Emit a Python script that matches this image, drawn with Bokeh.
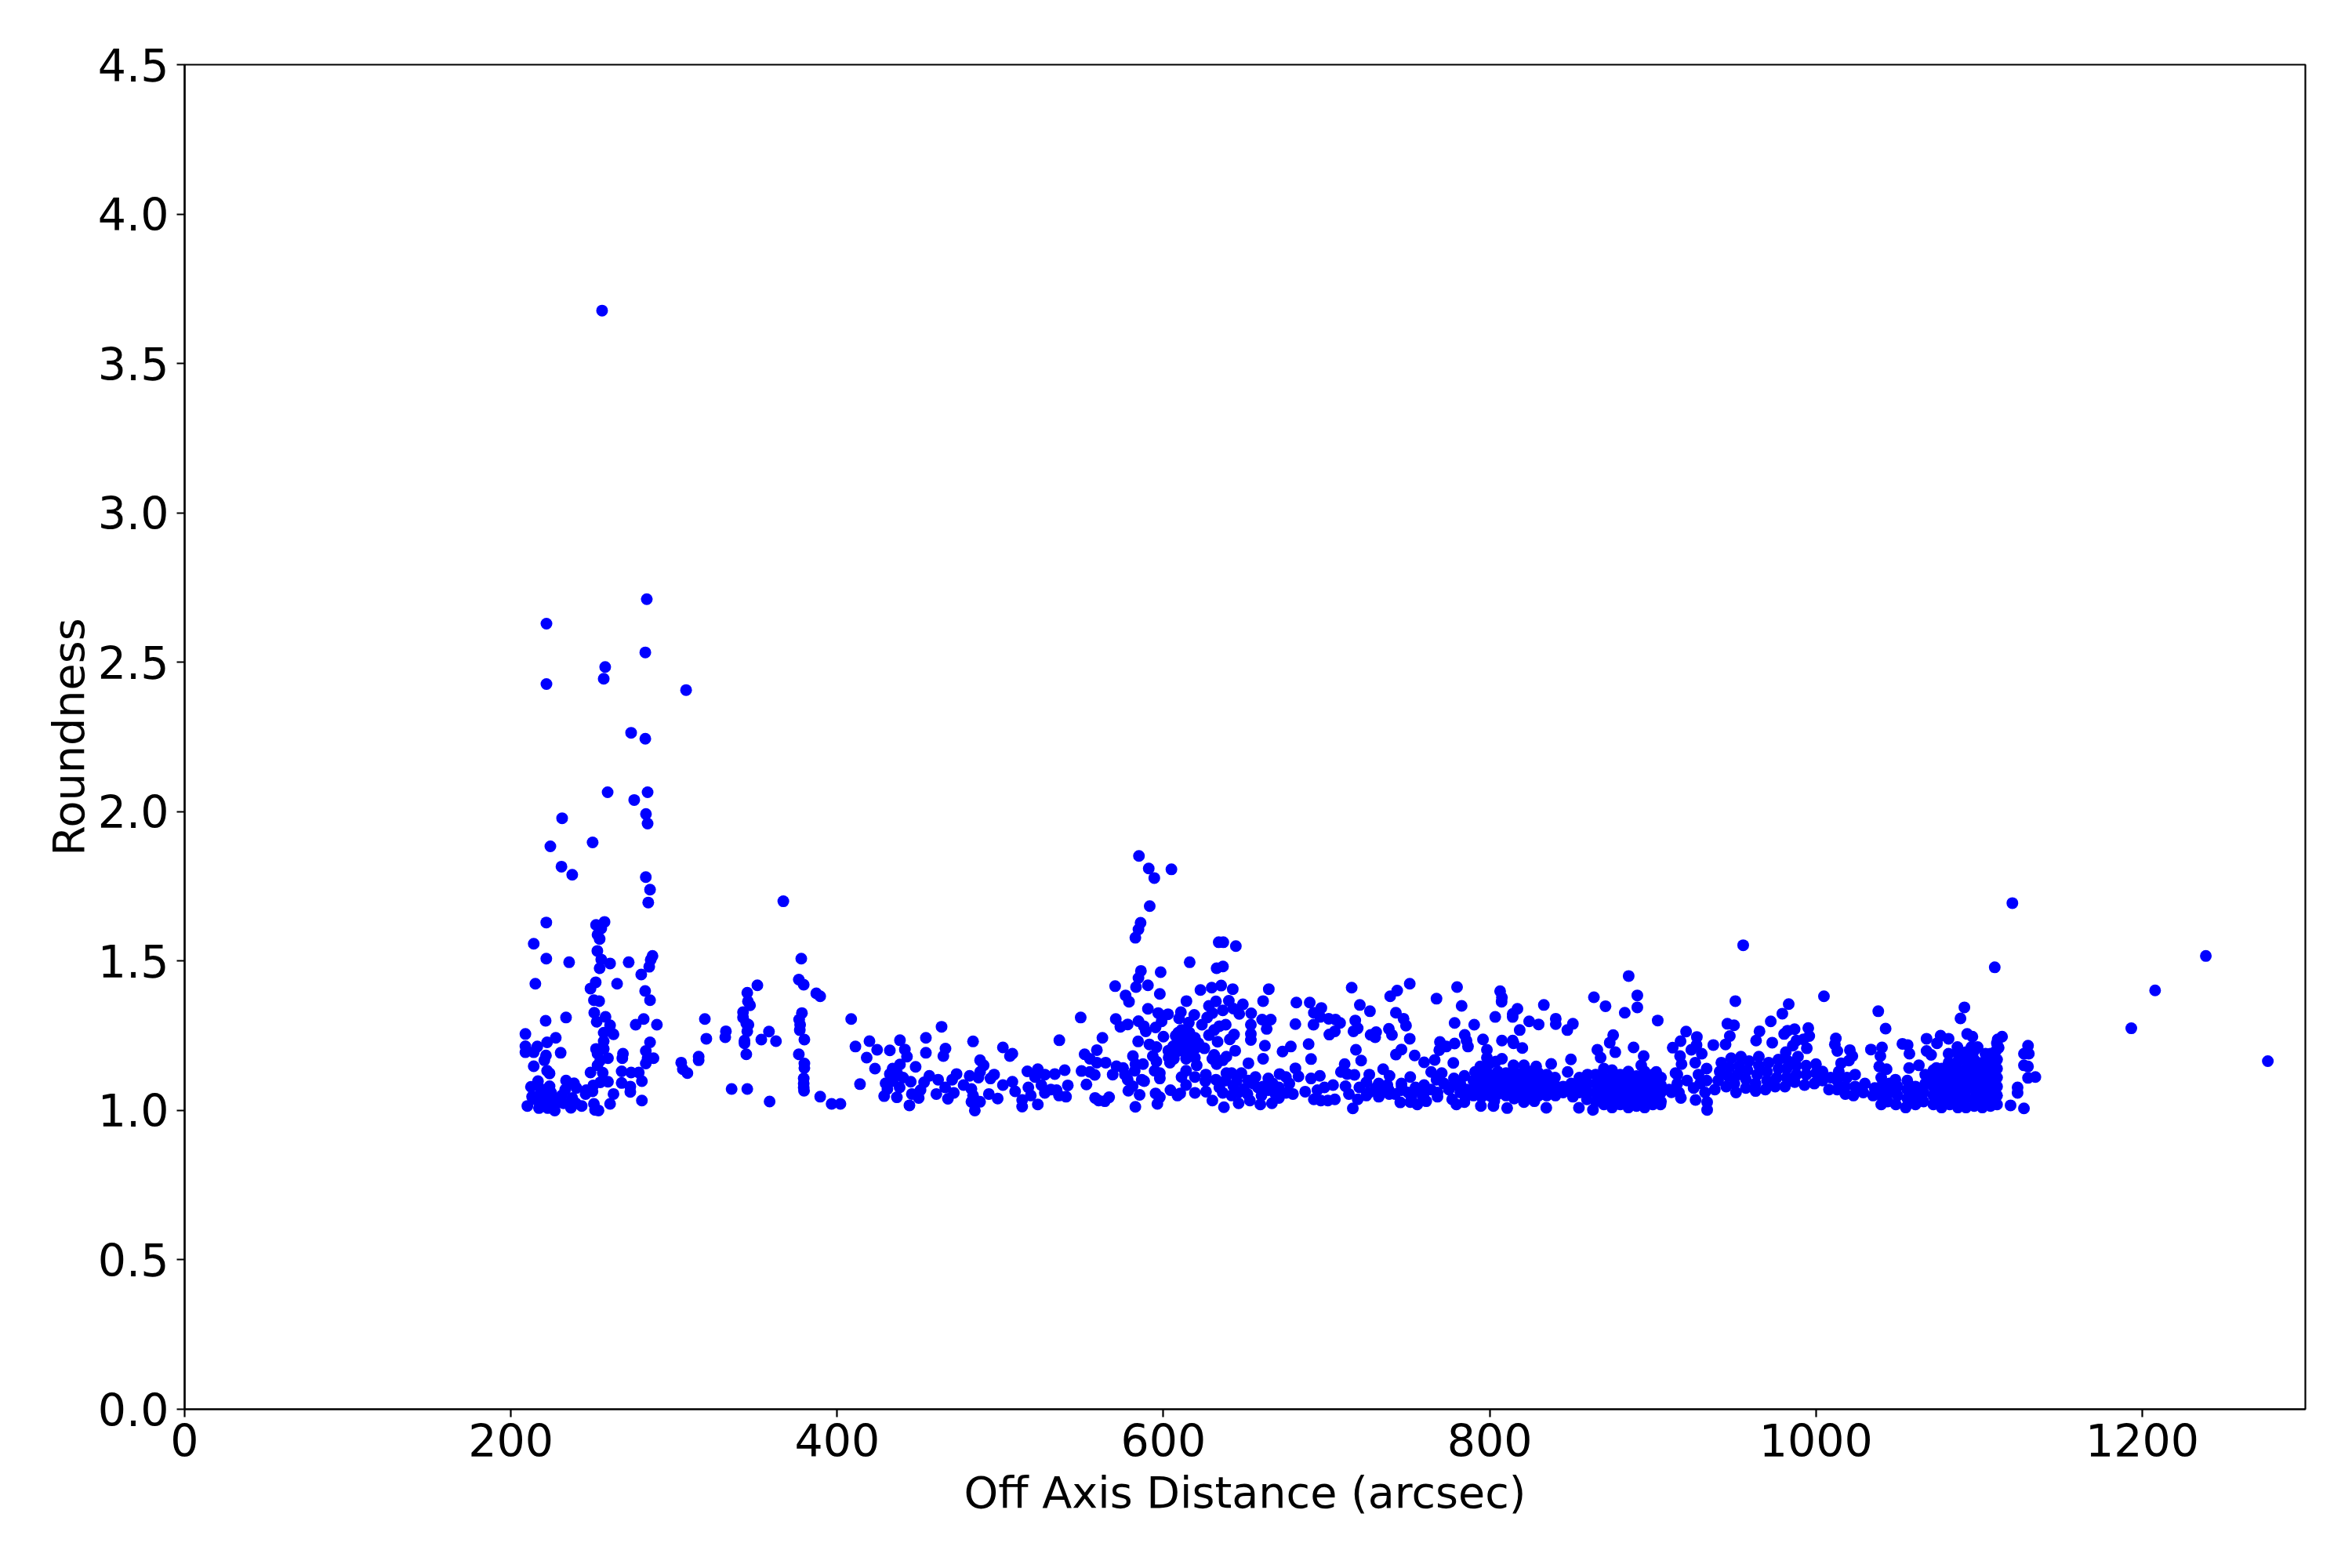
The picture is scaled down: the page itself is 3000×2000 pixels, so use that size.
from bokeh.plotting import figure
from bokeh.embed import file_html
from bokeh.resources import INLINE
from bokeh.models import Range1d, FixedTicker, ColumnDataSource

x_ticks = [0, 200, 400, 600, 800, 1000, 1200]
y_ticks = [0.0, 0.5, 1.0, 1.5, 2.0, 2.5, 3.0, 3.5, 4.0, 4.5]
y_tick_labels = {0.0: "0.0", 0.5: "0.5", 1.0: "1.0", 1.5: "1.5", 2.0: "2.0", 2.5: "2.5", 3.0: "3.0", 3.5: "3.5", 4.0: "4.0", 4.5: "4.5"}
x_title = "Off Axis Distance (arcsec)"
y_title = "Roundness"

high_points = [(255.9,3.677),(283.3,2.711),(221.8,2.629),(282.4,2.533),(257.8,2.484),(256.9,2.445),(221.8,2.427),(307.4,2.407),
(273.7,2.264),(282.4,2.244),(259.3,2.065),(283.8,2.065),(275.6,2.039),(282.8,1.992),(283.8,1.96),(231.4,1.978),(224.2,1.884),(250.1,1.897),(585,1.852)]

left_points = [(231,1.816),(237.6,1.789),(282.7,1.781),(285.3,1.739),(284.2,1.696),(367,1.70),(221.7,1.629),(252.2,1.621),(257.4,1.631),
(255.4,1.609),(253.1,1.588),(254.4,1.574),(214,1.558),(253,1.534),(221.7,1.508),(235.7,1.496),(255.4,1.505),(260.8,1.492),(272.2,1.496),
(286.8,1.517),(285.7,1.504),(284.8,1.481),(254.4,1.476),(279.9,1.455),(378,1.508),(376.5,1.438),(379.5,1.421),(387.2,1.392),(389.6,1.382),
(215,1.424),(252,1.429),(248.8,1.408),(265.1,1.424),(282.3,1.40),(285.3,1.369),(250.9,1.369),(254.1,1.366),(251.1,1.327),(252.6,1.297),
(258,1.313),(221.3,1.30),(233.8,1.311),(281.4,1.306),(276.5,1.287),(289.5,1.287),(260.8,1.285),(256.9,1.260),(262.9,1.255),(208.9,1.256),
(227.5,1.243),(222.2,1.228),(216.2,1.214),(208.9,1.215),(208.9,1.195),(214,1.195),(256.9,1.232),(252.2,1.206),(256.9,1.206),(253.1,1.19),
(285.3,1.228),(282.7,1.199),(287.4,1.175),(283.8,1.175),(282.7,1.157),(259.5,1.175),(254.8,1.168),(253.1,1.151),(268.7,1.19),(268.3,1.175),
(230.5,1.193),(221.5,1.184),(220.5,1.168),(214,1.148),(222.2,1.133),(223.7,1.124),(248.8,1.127),(256.3,1.126),(267.9,1.131),(273.7,1.127),
(278.4,1.127),(280.3,1.098),(259.5,1.096),(267.9,1.092),(273.2,1.08),(273.2,1.062),(262.9,1.055),(280.3,1.033),(260.8,1.022),(250.9,1.022),
(251.6,1.002),(253.7,1.0),(254.8,1.094),(250.5,1.084),(246.2,1.068),(250,1.064),(245.8,1.055),(243.4,1.015),(216.6,1.098),(233.8,1.10),
(238.7,1.091),(212.3,1.079),(223.7,1.081),(233.3,1.07),(240.2,1.075),(218.3,1.072),(224.7,1.059),(213,1.046),(217.2,1.05),(221.5,1.046),
(231.2,1.05),(237.6,1.042),(226.9,1.037),(210.1,1.015),(217.2,1.008),(222.6,1.008),(226.9,1.0),(236.8,1.009),(232.3,1.024),(224.7,1.02),
(219.4,1.028),(215,1.037),(229,1.028),(239.8,1.024)]

middle_points = [(318.9,1.306),(319.8,1.240),(331.8,1.265),(331.4,1.245),(304.4,1.16),(305.4,1.138),(308.2,1.125),(315.1,1.18),(315.1,1.168),
(351.1,1.419),(344.9,1.394),(345.3,1.365),(346.6,1.352),(342.3,1.329),(342.3,1.311),(344.3,1.291),(345.6,1.287),(344.9,1.265),(343.2,1.234),
(343.2,1.225),(358.2,1.264),(353.5,1.237),(362.5,1.232),(344.3,1.188),(335.3,1.072),(344.9,1.072),(358.6,1.03),(378.4,1.326),(376.7,1.304),
(377.3,1.287),(377.1,1.269),(379.9,1.237),(376.5,1.188),(379.9,1.157),(379.9,1.142),(379.5,1.107),(379.5,1.09),(379.5,1.077),(379.7,1.066),
(389.6,1.046),(396.6,1.022),(402,1.022),(408.6,1.306),(414,1.088),(411.2,1.214),(419.8,1.232),(424.5,1.203),(418.1,1.177),(423.2,1.140),
(432.3,1.201),(438.5,1.235),(441.5,1.204),(442.8,1.18),(438.5,1.154),(448.1,1.146),(434,1.14),(432.3,1.122),(437.2,1.12),(440.4,1.11),
(429.7,1.091),(434,1.098),(438.3,1.077),(430.8,1.072),(428.8,1.048),(436.6,1.044),(445.1,1.096),(444.3,1.017),(454.4,1.243),(464,1.28),
(454.4,1.193),(466.4,1.207),(465.1,1.182),(483.3,1.231),(501.6,1.211),(507.4,1.19),(505.9,1.182),(487.6,1.168),(489.8,1.151),(487.6,1.129),
(486.6,1.11),(456.5,1.116),(453.3,1.094),(461.9,1.103),(460.8,1.055),(466.2,1.077),(473.2,1.122),(470.5,1.103),(445.8,1.055),(451.1,1.068),
(450,1.042),(481.2,1.116),(477.5,1.085),(471.5,1.059),(467.9,1.039),(482.3,1.072),(483.3,1.05),(482.3,1.029),(484.4,1.0),(487.6,1.029),
(493,1.055),(498.4,1.04),(494,1.107),(496.2,1.12),(501.6,1.085),(507.4,1.096),(509.1,1.064),(516.6,1.131),(523,1.138),(521.3,1.112),
(527.3,1.12),(517.2,1.077),(525.2,1.085),(518.7,1.05),(513.4,1.035),(513.4,1.013),(523,1.02),(527.3,1.059),(531,1.07)]

bump_points = [(591,1.81),(604.9,1.807),(594.4,1.778),(591.6,1.684),(586,1.628),(584.7,1.606),(582.8,1.578),(633.9,1.563),(636.7,1.563),
(644.4,1.55),(616.1,1.496),(636.5,1.482),(632.6,1.476),(586.2,1.467),(598.3,1.463),(584.7,1.443),(590.5,1.419),(583.2,1.413),(570.4,1.416),
(576.8,1.385),(578.9,1.364),(597.8,1.39),(614.1,1.366),(622.7,1.403),(629.6,1.411),(635.4,1.418),(642.5,1.406),(664.6,1.406),(661.1,1.366),
(640.1,1.367),(648.7,1.355),(642.9,1.341),(646.5,1.323),(653.8,1.325),(627.9,1.35),(632.2,1.365),(636.4,1.335),(630,1.326),(590.5,1.34),
(549.3,1.311),(570.8,1.306),(573.6,1.28),(578.1,1.288),(584.7,1.299),(588,1.282),(596.8,1.326),(602.8,1.322),(598.9,1.298),(595.2,1.278),
(589.2,1.265),(610.7,1.329),(609.6,1.308),(618.9,1.32),(615.6,1.294),(626.8,1.311),(623.6,1.287),(611.1,1.269),(634.3,1.282),(638.2,1.287),
(631.1,1.269),(653.6,1.287),(653.6,1.256),(653.6,1.236),(660.5,1.304),(665.8,1.304),(663.3,1.273),(662.2,1.217),(661.1,1.173),(652.1,1.158),
(644,1.2),(643.3,1.254),(640.7,1.238),(633.2,1.23),(627.9,1.252),(607.5,1.25),(613.9,1.252),(619.3,1.243),(608.6,1.225),(615,1.225),
(621.4,1.225),(625.1,1.208),(617.1,1.199),(611.8,1.199),(607.5,1.195),(619.3,1.177),(613.9,1.173),(606.4,1.173),(603.2,1.177),(620.4,1.151),
(631.1,1.186),(630,1.173),(638.6,1.18),(632.6,1.155),(636.4,1.168),(562.6,1.243),(536.2,1.235),(559.2,1.202),(551.7,1.188),(554.9,1.173),
(559.2,1.16),(564.6,1.16),(584.5,1.231),(591.4,1.221),(595.7,1.212),(593.5,1.182),(595.7,1.164),(581.3,1.182),(582.8,1.155),(587.5,1.155),
(582.4,1.133),(600,1.247),(594.6,1.133),(597.8,1.125),(597.8,1.107),(571.2,1.148),(575.3,1.142),(568.9,1.12),(576.4,1.12),(578.1,1.103),
(586.7,1.103),(581.1,1.081),(588.2,1.098),(578.5,1.066),(585.4,1.052),(582.8,1.012),(539.5,1.135),(533.4,1.122),(549.8,1.132),(554.9,1.129),
(557.9,1.119),(552.8,1.087),(541.4,1.084),(534.5,1.068),(536,1.05),(540.3,1.046),(558.1,1.042),(560.3,1.033),(564.1,1.031),(566.7,1.044),
(595.2,1.057),(597.8,1.044),(596.3,1.022),(604.3,1.068),(610.3,1.057),(608.6,1.05),(619.3,1.059),(626.1,1.063),(613.9,1.085),(611.1,1.112),
(613.9,1.133),(619.3,1.112),(625.7,1.098),(632.2,1.103),(638.6,1.125),(641.8,1.125),(647.8,1.125),(656.4,1.112),(664.3,1.107),(671.2,1.122),
(675.1,1.112),(677.2,1.09),(679.4,1.055),(675.1,1.059),(670.8,1.042),(666.5,1.024),(659.4,1.02),(653,1.033),(646.1,1.024),(637.1,1.011),
(630,1.033),(634.3,1.077),(642.9,1.081),(649.3,1.072),(657.9,1.077),(664.3,1.068),(670.8,1.077),(641.8,1.05),(651.5,1.055),(660.1,1.05),
(668.6,1.055),(636.4,1.059),(603,1.2),(606,1.215),(611,1.24),(616,1.26),(620,1.21),(612,1.215),(617,1.235),(609,1.26),(604,1.16),(626,1.12),
(646,1.06),(655,1.09),(661,1.08),(667,1.09),(645,1.1),(652,1.1),(638,1.1)]

band_points = [(673,1.197),(678.1,1.214),(689,1.222),(690.5,1.172),(680.9,1.141),(682.8,1.114),(681.5,1.361),(680.9,1.289),(689.7,1.361),
(696.8,1.343),(692.2,1.327),(692,1.287),(696.1,1.313),(701.3,1.307),(705.5,1.304),(708.3,1.293),(705.1,1.265),(701.7,1.254),(715.4,1.411),
(720.4,1.353),(726.6,1.332),(717.6,1.301),(719.1,1.275),(716.5,1.265),(727,1.253),(730.4,1.262),(729.8,1.245),(718,1.203),(721.2,1.167),
(711.1,1.155),(708.8,1.129),(712.6,1.122),(717.1,1.119),(690.5,1.107),(695.9,1.116),(686.9,1.063),(692.2,1.037),(696.5,1.033),(700.8,1.033),
(705.1,1.037),(698.7,1.077),(704,1.085),(711.6,1.081),(713.7,1.055),(719.1,1.037),(716.1,1.007),(694.4,1.068),(720.1,1.077),(726.2,1.12),
(724.4,1.094),(732,1.09),(734.7,1.138),(738.6,1.116),(737.3,1.085),(732,1.046),(724.4,1.05),(738.4,1.055),(745.9,1.068),(745.2,1.027),
(751.3,1.112),(745.9,1.09),(755.6,1.02),(751.3,1.028),(761.1,1.031),(754.5,1.077),(759.8,1.085),(758.8,1.05),(751,1.424),(743.3,1.401),
(739,1.382),(742.5,1.327),(747.2,1.307),(748.7,1.284),(738.2,1.273),(740.1,1.253),(751,1.24),(745.9,1.204),(742.5,1.187),(754,1.184),
(759.8,1.161),(766.3,1.169),(767.4,1.374),(780,1.413),(782.8,1.35),(778.5,1.293),(790.5,1.287),(784.7,1.253),(785.8,1.234),(786.7,1.214),
(778.5,1.224),(773.4,1.214),(769.5,1.229),(769.1,1.202),(795.9,1.238),(777.7,1.159),(798.3,1.203),(798.3,1.177),(807.5,1.234),(814.1,1.234),
(814.6,1.225),(820,1.209),(818.4,1.269),(814.1,1.323),(814.1,1.313),(817,1.34),(803.4,1.313),(806.4,1.399),(807.5,1.378),(807.3,1.364),
(833.2,1.353),(824.2,1.298),(830,1.288),(840.5,1.307),(840.5,1.289),(851,1.29),(847.6,1.269),(863.9,1.379),(866,1.203),(868,1.177),(849.8,1.171),
(837.7,1.156),(807.5,1.173),(814.6,1.151),(821,1.151),(828.5,1.147),(847.8,1.129),(794.2,1.147),(799.6,1.155),(803.8,1.164),(764.1,1.129),
(770.6,1.125),(767.4,1.103),(778.1,1.107),(784.5,1.116),(791,1.129),(797.4,1.129),(779.6,1.02),(784.5,1.028),(794.6,1.015),(802.3,1.015),
(802.8,1.031),(810.7,1.008),(821,1.028),(827.4,1.031),(834.7,1.009),(840.3,1.05),(851,1.046),(854.7,1.009),(863.3,1.002),(859.6,1.037),
(768,1.046),(777,1.037),(726,1.06),(730,1.075),(734,1.06),(738,1.07),(742,1.055),(746,1.08),(750,1.06),(752,1.045),(756,1.07),(760,1.06),
(764,1.07),(768,1.06),(772,1.09),(775,1.07),(778,1.085),(782,1.06),(782,1.09),(786,1.07),(786,1.05),(790,1.1),(790,1.07),(790,1.05),(795,1.115),
(795,1.09),(795,1.065),(795,1.045),(800,1.12),(800,1.095),(800,1.07),(800,1.05),(805,1.13),(805,1.105),(805,1.08),(805,1.055),(810,1.125),
(810,1.1),(810,1.075),(810,1.05),(815,1.13),(815,1.105),(815,1.08),(815,1.055),(815,1.04),(820,1.125),(820,1.1),(820,1.075),(820,1.05),(825,1.13),
(825,1.105),(825,1.08),(825,1.055),(830,1.125),(830,1.1),(830,1.075),(830,1.05),(835,1.12),(835,1.095),(835,1.07),(835,1.05),(840,1.11),(840,1.085),
(840,1.065),(845,1.08),(845,1.06),(850,1.065),(850,1.09),(855,1.06),(855,1.085),(855,1.11),(860,1.12),(860,1.09),(860,1.06)]

right_points = [(1120.4,1.694),(955.4,1.553),(1109.6,1.479),(885.2,1.45),(890.5,1.385),(890.5,1.345),(882.8,1.327),(871,1.349),(903,1.301),
(950.6,1.366),(1004.9,1.382),(983.3,1.356),(979.4,1.324),(972.3,1.298),(945.7,1.29),(949.8,1.285),(1038.2,1.332),(1042.7,1.274),(1091,1.345),
(1088.6,1.308),(1193.3,1.275),(1092.7,1.256),(1095.9,1.247),(1114.1,1.247),(1111.4,1.238),(1110.9,1.225),(875.7,1.252),(873.6,1.227),(888.2,1.211),
(894.4,1.182),(877,1.195),(920.4,1.264),(917,1.232),(912.2,1.21),(927,1.246),(926.8,1.219),(923.6,1.203),(930,1.19),(937.1,1.219),(947.2,1.249),
(944.6,1.221),(965.4,1.265),(963.3,1.234),(973.2,1.227),(980.5,1.256),(982.6,1.267),(986.9,1.272),(995.3,1.276),(995.9,1.249),(988,1.234),
(992.3,1.238),(994.4,1.208),(985.8,1.217),(981.5,1.195),(1012.2,1.241),(1011.6,1.221),(1013.1,1.199),(1020.8,1.202),(1022.3,1.182),(1020.2,1.167),
(1015.4,1.158),(1033.7,1.204),(1040.5,1.211),(1039.5,1.182),(1038.8,1.147),(1043.3,1.138),(1053,1.223),(1056.2,1.219),(1057.3,1.19),(1067.8,1.24),
(1074.2,1.225),(1076.4,1.25),(1081.3,1.24),(1067.8,1.199),(1070.6,1.186),(1057.1,1.142),(1063.1,1.151),(1048.7,1.103),(1073.8,1.142),(1081.3,1.19),
(1081.3,1.16),(1086.7,1.212),(1095.3,1.212),(1099.1,1.212),(1103.9,1.19),(1110.3,1.199),(1130,1.217),(1127.5,1.19),(1130.5,1.19),(1127.5,1.151),
(1130,1.147),(1130,1.109),(1134.5,1.112),(1123.6,1.077),(1123.6,1.059),(1119.3,1.017),(1127.5,1.007),(933.3,1.028),(933.3,1.002),(926.2,1.035),
(917.2,1.042),(911.4,1.061),(913.9,1.125),(916.7,1.182),(917.6,1.155),(902.1,1.129),(892.9,1.151),(904.7,1.02),(1207.9,1.402),(1239,1.517),(1277,1.165)]

cluster_a_points = [(865,1.03),(865,1.06),(865,1.09),(865,1.12),(870,1.02),(870,1.05),(870,1.08),(870,1.11),(870,1.14),(875,1.01),(875,1.035),(875,1.06),
(875,1.085),(875,1.11),(875,1.135),(880,1.02),(880,1.045),(880,1.07),(880,1.095),(880,1.12),(885,1.01),(885,1.035),(885,1.06),(885,1.085),(885,1.11),
(885,1.13),(890,1.015),(890,1.04),(890,1.065),(890,1.09),(890,1.115),(895,1.01),(895,1.035),(895,1.06),(895,1.085),(895,1.11),(895,1.13),(900,1.02),
(900,1.045),(900,1.07),(900,1.095),(900,1.12),(905,1.03),(905,1.06),(905,1.085),(905,1.11),(910,1.07),(915,1.09),(916,1.06),(915,1.12),(921,1.1),
(925,1.075),(926,1.16),(928,1.12),(929,1.09),(932,1.06),(933,1.14),(933,1.1)]

cluster_b_points = [(938,1.07),(940,1.1),(941,1.13),(942,1.16),(945,1.08),(946,1.115),(947,1.145),(948,1.175),(950,1.09),(951,1.06),(952,1.12),(953,1.15),
(954,1.18),(957,1.075),(957,1.105),(958,1.135),(959,1.165),(963,1.065),(963,1.09),(964,1.12),(965,1.15),(965,1.18),(969,1.07),(970,1.1),(970,1.13),(971,1.16),
(975,1.08),(976,1.11),(977,1.14),(977,1.17),(981,1.08),(982,1.11),(982,1.14),(983,1.165),(987,1.095),(988,1.12),(988,1.15),(989,1.18),(993,1.085),(994,1.12),
(994,1.15),(999,1.09),(1000,1.125),(1000,1.155),(1004,1.1),(1004,1.13),(1008,1.07),(1009,1.11),(1013,1.07),(1013,1.1),(1014,1.13),(1018,1.055),(1018,1.08),
(1019,1.11),(1023,1.05),(1024,1.08),(1024,1.12),(1029,1.06),(1030,1.09),(1035,1.05),(1036,1.075),(1040,1.02),(1040,1.05),(1040,1.08),(1040,1.11),(1044,1.03),
(1045,1.06),(1045,1.09),(1049,1.02),(1050,1.05),(1050,1.08),(1055,1.01),(1056,1.04),(1056,1.07),(1056,1.1),(1061,1.02),(1061,1.05),(1061,1.08),(1066,1.03),
(1066,1.06),(1067,1.09),(1067,1.12)]

cluster_c_points = [(1072,1.02),(1072,1.05),(1072,1.08),(1072,1.11),(1072,1.135),(1077,1.01),(1077,1.035),(1077,1.06),(1077,1.085),(1077,1.11),(1077,1.14),
(1082,1.02),(1082,1.045),(1082,1.07),(1082,1.095),(1082,1.12),(1082,1.15),(1087,1.01),(1087,1.035),(1087,1.06),(1087,1.085),(1087,1.11),(1087,1.135),(1087,1.165),
(1087,1.19),(1092,1.01),(1092,1.04),(1092,1.065),(1092,1.09),(1092,1.115),(1092,1.14),(1092,1.17),(1092,1.195),(1097,1.015),(1097,1.04),(1097,1.07),(1097,1.095),
(1097,1.12),(1097,1.145),(1097,1.17),(1097,1.2),(1102,1.01),(1102,1.035),(1102,1.06),(1102,1.085),(1102,1.11),(1102,1.135),(1102,1.16),(1107,1.015),(1107,1.04),
(1107,1.065),(1107,1.09),(1107,1.115),(1107,1.14),(1107,1.165),(1107,1.19),(1111,1.02),(1111,1.05),(1111,1.08),(1111,1.11),(1111,1.14),(1111,1.17),(1112,1.21)]

all_points = high_points + left_points + middle_points + bump_points + band_points + right_points + cluster_a_points + cluster_b_points + cluster_c_points
offset = [p[0] for p in all_points]
roundness = [p[1] for p in all_points]

FONT = "DejaVu Sans"
p = figure(width=2992, height=1992, x_range=Range1d(0, 1300), y_range=Range1d(0, 4.5),
           output_backend="svg", toolbar_location=None,
           min_border_left=235, min_border_top=82, min_border_right=52, min_border_bottom=195)
p.frame_width = 2705
p.frame_height = 1715
p.grid.visible = False
p.background_fill_color = "white"
p.border_fill_color = "white"
p.outline_line_color = "black"
p.outline_line_width = 2.2

p.xaxis.ticker = FixedTicker(ticks=x_ticks)
p.yaxis.ticker = FixedTicker(ticks=y_ticks)
p.yaxis.major_label_overrides = y_tick_labels
p.xaxis.axis_label = x_title
p.yaxis.axis_label = y_title
for ax in (p.xaxis[0], p.yaxis[0]):
    ax.axis_line_color = "black"
    ax.axis_line_width = 2.2
    ax.major_tick_line_color = "black"
    ax.major_tick_line_width = 2.2
    ax.major_tick_out = 10
    ax.major_tick_in = 0
    ax.minor_tick_line_color = None
    ax.major_label_text_font = FONT
    ax.major_label_text_font_size = "57px"
    ax.major_label_text_color = "black"
    ax.axis_label_text_font = FONT
    ax.axis_label_text_font_size = "55.6px"
    ax.axis_label_text_font_style = "normal"
    ax.axis_label_text_color = "black"
p.xaxis.major_label_standoff = 8
p.yaxis.major_label_standoff = 10
p.xaxis.axis_label_standoff = 10
p.yaxis.axis_label_standoff = 2

src = ColumnDataSource(dict(x=offset, y=roundness))
p.scatter("x", "y", source=src, size=15, marker="circle", fill_color="#0000ff", line_color=None)

open("out.html", "w").write(file_html(p, INLINE))
